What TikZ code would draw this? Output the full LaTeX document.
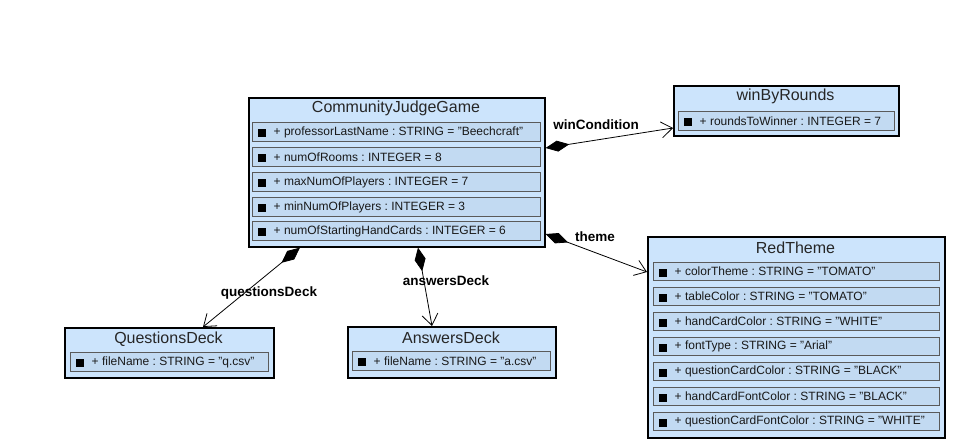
\documentclass[tikz,border=0pt]{standalone}
\usepackage{fontspec}
\setmainfont{Liberation Sans}
\usetikzlibrary{arrows.meta,calc}
\frenchspacing
\definecolor{boxblue}{RGB}{204,228,252}
\definecolor{rowblue}{RGB}{194,218,242}
\definecolor{rowline}{RGB}{90,90,90}
\newcommand\attrrow[6]{%
  \node[rowbox,minimum width=#4pt,minimum height=#5pt] (#1) at (#2,#3) {};
  \fill ([xshift=6pt,yshift=3pt]#1.west) rectangle +(8,8);
  \node[attrtext] at ([xshift=21.5pt]#1.west) {#6};
}
\begin{document}
\begin{tikzpicture}[x=1pt,y=-1pt,
  classbox/.style={draw=black,line width=1.6pt,fill=boxblue,anchor=north west,inner sep=0pt},
  rowbox/.style={draw=rowline,line width=1pt,fill=rowblue,anchor=north west,inner sep=0pt},
  titletext/.style={inner sep=0pt,text=black!85,font=\fontsize{16}{18}\selectfont},
  attrtext/.style={inner sep=0pt,anchor=west,text=black!90,font=\fontsize{12}{14}\selectfont},
  lbl/.style={inner sep=0pt,font=\bfseries\fontsize{13.5}{15}\selectfont},
  assoc/.style={line width=0.8pt,{Diamond[length=24pt,width=11pt]}-{Straight Barb[length=11pt,width=16pt]}}]
\fill[white] (0,0) rectangle (953,447);
\useasboundingbox (0,0) rectangle (953,447);

% CommunityJudgeGame
\node[classbox,minimum width=296pt,minimum height=149pt] (cjg) at (248,97) {};
\node[titletext] (cjgt) at (396,108.5) {CommunityJudgeGame};
\attrrow{cjg1}{252}{122}{288}{19}{+ professorLastName : STRING = "Beechcraft"}
\attrrow{cjg2}{252}{147}{288}{19}{+ numOfRooms : INTEGER = 8}
\attrrow{cjg3}{252}{172}{288}{19}{+ maxNumOfPlayers : INTEGER = 7}
\attrrow{cjg4}{252}{197}{288}{19}{+ minNumOfPlayers : INTEGER = 3}
\attrrow{cjg5}{252}{221}{288}{19}{+ numOfStartingHandCards : INTEGER = 6}

% winByRounds
\node[classbox,minimum width=225pt,minimum height=50pt] (wbr) at (673,85) {};
\node[titletext] (wbrt) at (785.5,96.5) {winByRounds};
\attrrow{wbr1}{678}{111}{216}{19}{+ roundsToWinner : INTEGER = 7}

% QuestionsDeck
\node[classbox,minimum width=209pt,minimum height=50pt] (qd) at (64,327) {};
\node[titletext] (qdt) at (168.5,339) {QuestionsDeck};
\attrrow{qd1}{70}{352}{198}{19}{+ fileName : STRING = "q.csv"}

% AnswersDeck
\node[classbox,minimum width=208pt,minimum height=51pt] (ad) at (347,326) {};
\node[titletext] (adt) at (451,338) {AnswersDeck};
\attrrow{ad1}{352}{351}{198}{19}{+ fileName : STRING = "a.csv"}

% RedTheme
\node[classbox,minimum width=297pt,minimum height=201pt] (rt) at (647,236) {};
\node[titletext] (rtt) at (795.5,248) {RedTheme};
\attrrow{rt1}{653}{262}{286}{18}{+ colorTheme : STRING = "TOMATO"}
\attrrow{rt2}{653}{287}{286}{18}{+ tableColor : STRING = "TOMATO"}
\attrrow{rt3}{653}{312}{286}{18}{+ handCardColor : STRING = "WHITE"}
\attrrow{rt4}{653}{337}{286}{18}{+ fontType : STRING = "Arial"}
\attrrow{rt5}{653}{362}{286}{18}{+ questionCardColor : STRING = "BLACK"}
\attrrow{rt6}{653}{387}{286}{18}{+ handCardFontColor : STRING = "BLACK"}
\attrrow{rt7}{653}{412}{286}{18}{+ questionCardFontColor : STRING = "WHITE"}

% connectors
\draw[assoc] ([yshift=-51pt]cjg.north east) -- ([yshift=-43pt]wbr.north west);
\draw[assoc] ([yshift=-137pt]cjg.north east) -- ([yshift=-36pt]rt.north west);
\draw[assoc] ([xshift=52pt]cjg.south west) -- ([xshift=139pt]qd.north west);
\draw[assoc] ([xshift=170pt]cjg.south west) -- ([xshift=85pt]ad.north west);

% labels
\node[lbl] (lwc) at (596,125) {winCondition};
\node[lbl] (lth) at (595,237) {theme};
\node[lbl] (lqd) at (269,293) {questionsDeck};
\node[lbl] (lad) at (446,281) {answersDeck};
\end{tikzpicture}
\end{document}
